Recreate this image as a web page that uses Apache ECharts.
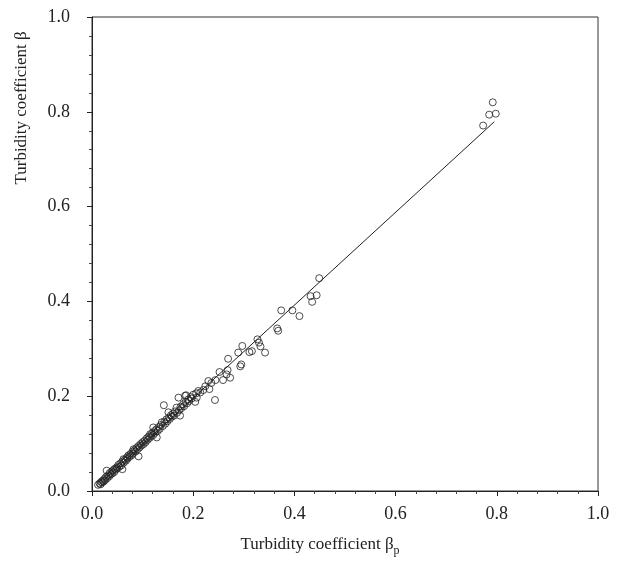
<!DOCTYPE html>
<html>
<head>
<meta charset="utf-8">
<script src="https://cdn.jsdelivr.net/npm/echarts@6/dist/echarts.min.js"></script>
<style>
    html, body { margin: 0; padding: 0; background: #fff; }
    #chart { width: 620px; height: 562px; }
</style>
</head>
<body>
<div id="chart"></div>
<script>
    // measured turbidity coefficient beta_p (x) and beta (y)
    const betaP = [
        0.012, 0.015, 0.017, 0.018, 0.020, 0.021, 0.023, 0.025, 0.026, 0.028,
        0.029, 0.030, 0.032, 0.034, 0.035, 0.037, 0.039, 0.040, 0.042, 0.044,
        0.045, 0.047, 0.049, 0.050, 0.052, 0.054, 0.056, 0.058, 0.060, 0.060,
        0.062, 0.063, 0.065, 0.067, 0.069, 0.070, 0.072, 0.074, 0.076, 0.078,
        0.080, 0.081, 0.082, 0.084, 0.086, 0.088, 0.090, 0.092, 0.092, 0.094,
        0.096, 0.098, 0.100, 0.102, 0.104, 0.106, 0.108, 0.110, 0.112, 0.114,
        0.115, 0.117, 0.119, 0.121, 0.121, 0.123, 0.125, 0.127, 0.128, 0.130,
        0.132, 0.134, 0.136, 0.138, 0.140, 0.142, 0.143, 0.145, 0.147, 0.149,
        0.151, 0.152, 0.154, 0.156, 0.158, 0.160, 0.162, 0.164, 0.167, 0.168,
        0.171, 0.172, 0.174, 0.175, 0.177, 0.180, 0.182, 0.184, 0.185, 0.186,
        0.188, 0.190, 0.192, 0.195, 0.197, 0.200, 0.204, 0.206, 0.207, 0.210,
        0.214, 0.220, 0.224, 0.230, 0.232, 0.236, 0.243, 0.244, 0.252, 0.259,
        0.266, 0.268, 0.269, 0.273, 0.289, 0.293, 0.295, 0.297, 0.311, 0.316,
        0.327, 0.330, 0.333, 0.342, 0.366, 0.368, 0.374, 0.396, 0.410, 0.432,
        0.435, 0.444, 0.449, 0.773, 0.785, 0.798, 0.792
    ];
    const beta = [
        0.013, 0.016, 0.014, 0.019, 0.018, 0.022, 0.020, 0.026, 0.023, 0.030,
        0.043, 0.027, 0.033, 0.031, 0.038, 0.035, 0.041, 0.037, 0.044, 0.040,
        0.047, 0.045, 0.050, 0.048, 0.055, 0.051, 0.058, 0.054, 0.046, 0.062,
        0.067, 0.060, 0.066, 0.064, 0.071, 0.068, 0.075, 0.072, 0.078, 0.075,
        0.083, 0.079, 0.088, 0.086, 0.083, 0.091, 0.088, 0.073, 0.095, 0.092,
        0.099, 0.096, 0.103, 0.099, 0.106, 0.103, 0.111, 0.108, 0.115, 0.112,
        0.120, 0.116, 0.122, 0.118, 0.134, 0.126, 0.123, 0.130, 0.113, 0.127,
        0.135, 0.131, 0.139, 0.145, 0.137, 0.181, 0.146, 0.142, 0.151, 0.147,
        0.166, 0.155, 0.152, 0.160, 0.157, 0.163, 0.159, 0.168, 0.176, 0.165,
        0.197, 0.170, 0.159, 0.178, 0.175, 0.183, 0.179, 0.201, 0.188, 0.202,
        0.185, 0.193, 0.190, 0.198, 0.195, 0.203, 0.188, 0.206, 0.197, 0.211,
        0.208, 0.213, 0.221, 0.232, 0.215, 0.228, 0.192, 0.234, 0.251, 0.234,
        0.246, 0.255, 0.279, 0.239, 0.292, 0.263, 0.267, 0.306, 0.293, 0.295,
        0.320, 0.313, 0.305, 0.292, 0.343, 0.338, 0.381, 0.381, 0.369, 0.411,
        0.399, 0.413, 0.449, 0.771, 0.794, 0.796, 0.820
    ];
    // regression line end points
    const fitX = [0.015, 0.795];
    const fitY = [0.015, 0.779];
    const axisTicks = [0, 0.2, 0.4, 0.6, 0.8, 1.0];

    const serif = "'Liberation Serif', 'DejaVu Serif', serif";
    let chart = echarts.init(document.getElementById('chart'));

    function axisCommon(margin) {
        return {
            type: 'value',
            min: axisTicks[0],
            max: axisTicks[axisTicks.length - 1],
            interval: axisTicks[1] - axisTicks[0],
            splitLine: { show: false },
            axisLine: { onZero: false, lineStyle: { color: '#222', width: 1 } },
            axisTick: { show: true, length: 5, lineStyle: { color: '#222' } },
            minorTick: { show: true, splitNumber: 5, length: 3, lineStyle: { color: '#444' } },
            axisLabel: {
                color: '#222',
                fontFamily: serif,
                fontSize: 18,
                margin: margin,
                formatter: v => v.toFixed(1)
            }
        };
    }

    let option = {
        backgroundColor: '#fff',
        animation: false,
        grid: {
            left: 92,
            right: 22,
            top: 17,
            bottom: 69,
            show: true,
            borderColor: '#333',
            borderWidth: 1
        },
        xAxis: Object.assign(axisCommon(14), {
            name: '{t|Turbidity coefficient β}{s|p}',
            nameLocation: 'middle',
            nameGap: 42,
            nameTextStyle: {
                rich: {
                    t: { fontFamily: serif, fontSize: 17, color: '#222' },
                    s: { fontFamily: serif, fontSize: 12, color: '#222', padding: [12, 0, 0, 0] }
                },
                padding: [0, 50, 0, 0]
            }
        }),
        yAxis: axisCommon(22),
        graphic: [{
            type: 'text',
            x: 22,
            y: 108,
            rotation: Math.PI / 2,
            style: {
                text: 'Turbidity coefficient β',
                fontFamily: serif,
                fontSize: 17,
                fill: '#222',
                align: 'center',
                verticalAlign: 'middle'
            }
        }],
        series: [
            {
                name: 'fit',
                type: 'line',
                data: fitX.map((x, i) => [x, fitY[i]]),
                symbol: 'none',
                lineStyle: { color: '#222', width: 1 },
                z: 1
            },
            {
                name: 'obs',
                type: 'scatter',
                data: betaP.map((x, i) => [x, beta[i]]),
                symbol: 'circle',
                symbolSize: 7,
                itemStyle: {
                    color: 'rgba(255,255,255,0)',
                    borderColor: '#222',
                    borderWidth: 1
                },
                z: 2
            }
        ]
    };
    chart.setOption(option);
</script>
</body>
</html>
